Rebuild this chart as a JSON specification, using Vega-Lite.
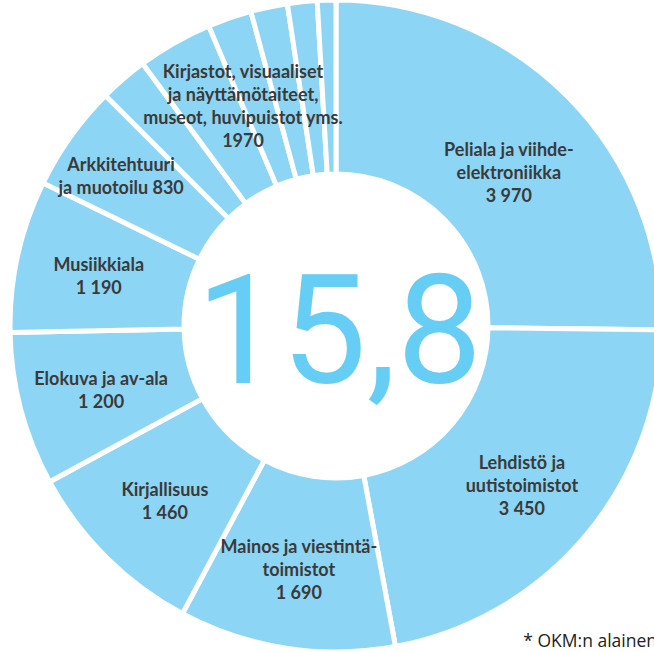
{
  "$schema": "https://vega.github.io/schema/vega-lite/v6.json",
  "width": 672,
  "height": 652,
  "padding": 0,
  "autosize": {"type": "none"},
  "background": "white",
  "config": {"view": {"stroke": null}},
  "title": {
    "text": "* OKM:n alainen",
    "orient": "bottom",
    "anchor": "end",
    "frame": "group",
    "offset": -29,
    "dx": -15,
    "font": "Open Sans",
    "fontSize": 17.5,
    "fontWeight": "normal",
    "color": "#222222"
  },
  "datasets": {
    "segments": [
      {"n": 1, "ala": "Peliala ja viihde-elektroniikka", "arvo": 3970},
      {"n": 2, "ala": "Lehdistö ja uutistoimistot", "arvo": 3450},
      {"n": 3, "ala": "Mainos ja viestintätoimistot", "arvo": 1690},
      {"n": 4, "ala": "Kirjallisuus", "arvo": 1460},
      {"n": 5, "ala": "Elokuva ja av-ala", "arvo": 1200},
      {"n": 6, "ala": "Musiikkiala", "arvo": 1190},
      {"n": 7, "ala": "Arkkitehtuuri ja muotoilu", "arvo": 830},
      {"n": 8, "ala": "Kirjastot ym. 1", "arvo": 377},
      {"n": 9, "ala": "Kirjastot ym. 2", "arvo": 587},
      {"n": 10, "ala": "Kirjastot ym. 3", "arvo": 343},
      {"n": 11, "ala": "Kirjastot ym. 4", "arvo": 287},
      {"n": 12, "ala": "Kirjastot ym. 5", "arvo": 231},
      {"n": 13, "ala": "Kirjastot ym. 6", "arvo": 145}
    ],
    "labels": [
      {"n": 1, "teksti": "Peliala ja viihde-\nelektroniikka\n3 970", "arvo": 3970},
      {"n": 2, "teksti": "Lehdistö ja\nuutistoimistot\n3 450", "arvo": 3450},
      {"n": 3, "teksti": "Mainos ja viestintä-\ntoimistot\n1 690", "arvo": 1690},
      {"n": 4, "teksti": "Kirjallisuus\n1 460", "arvo": 1460},
      {"n": 5, "teksti": "Elokuva ja av-ala\n1 200", "arvo": 1200},
      {"n": 6, "teksti": "Musiikkiala\n1 190", "arvo": 1190},
      {"n": 7, "teksti": "Arkkitehtuuri\nja muotoilu 830", "arvo": 830},
      {"n": 8, "teksti": "Kirjastot, visuaaliset\nja näyttämötaiteet,\nmuseot, huvipuistot yms.\n1970", "arvo": 1970}
    ],
    "center": [{"t": "15,8"}]
  },
  "layer": [
    {
      "data": {"name": "segments"},
      "mark": {"type": "arc", "outerRadius": 326, "innerRadius": 152, "fill": "#8dd5f4", "stroke": "white", "strokeWidth": 5},
      "encoding": {
        "theta": {"field": "arvo", "type": "quantitative", "stack": true},
        "order": {"field": "n", "type": "quantitative", "sort": "ascending"}
      }
    },
    {
      "data": {"name": "labels"},
      "mark": {"type": "text", "radius": 243, "dy": -4, "font": "Lato", "fontSize": 18, "fontWeight": "bold", "color": "#3a3a3a", "lineBreak": "\n", "lineHeight": 23, "align": "center", "baseline": "middle"},
      "encoding": {
        "theta": {"field": "arvo", "type": "quantitative", "stack": true},
        "order": {"field": "n", "type": "quantitative", "sort": "ascending"},
        "text": {"condition": {"test": "datum.n == 1", "field": "teksti"}, "value": ""}
      }
    },
    {
      "data": {"name": "labels"},
      "mark": {"type": "text", "radius": 243, "dy": -18, "font": "Lato", "fontSize": 18, "fontWeight": "bold", "color": "#3a3a3a", "lineBreak": "\n", "lineHeight": 23, "align": "center", "baseline": "middle"},
      "encoding": {
        "theta": {"field": "arvo", "type": "quantitative", "stack": true},
        "order": {"field": "n", "type": "quantitative", "sort": "ascending"},
        "text": {"condition": {"test": "datum.n == 2 || datum.n == 3", "field": "teksti"}, "value": ""}
      }
    },
    {
      "data": {"name": "labels"},
      "mark": {"type": "text", "radius": 243, "dy": -8, "font": "Lato", "fontSize": 18, "fontWeight": "bold", "color": "#3a3a3a", "lineBreak": "\n", "lineHeight": 23, "align": "center", "baseline": "middle"},
      "encoding": {
        "theta": {"field": "arvo", "type": "quantitative", "stack": true},
        "order": {"field": "n", "type": "quantitative", "sort": "ascending"},
        "text": {"condition": {"test": "datum.n == 4 || datum.n == 5 || datum.n == 6", "field": "teksti"}, "value": ""}
      }
    },
    {
      "data": {"name": "labels"},
      "mark": {"type": "text", "radius": 264, "dy": -7, "font": "Lato", "fontSize": 18, "fontWeight": "bold", "color": "#3a3a3a", "lineBreak": "\n", "lineHeight": 23, "align": "center", "baseline": "middle"},
      "encoding": {
        "theta": {"field": "arvo", "type": "quantitative", "stack": true},
        "order": {"field": "n", "type": "quantitative", "sort": "ascending"},
        "text": {"condition": {"test": "datum.n == 7", "field": "teksti"}, "value": ""}
      }
    },
    {
      "data": {"name": "labels"},
      "mark": {"type": "text", "radius": 243, "dy": -28, "font": "Lato", "fontSize": 18, "fontWeight": "bold", "color": "#3a3a3a", "lineBreak": "\n", "lineHeight": 23, "align": "center", "baseline": "middle"},
      "encoding": {
        "theta": {"field": "arvo", "type": "quantitative", "stack": true},
        "order": {"field": "n", "type": "quantitative", "sort": "ascending"},
        "text": {"condition": {"test": "datum.n == 8", "field": "teksti"}, "value": ""}
      }
    },
    {
      "data": {"name": "center"},
      "mark": {"type": "text", "font": "Roboto", "fontSize": 152, "fontWeight": "normal", "color": "#66cdf5", "align": "center", "baseline": "alphabetic", "dy": 57, "dx": 3},
      "encoding": {
        "text": {"field": "t", "type": "nominal"}
      }
    }
  ]
}
